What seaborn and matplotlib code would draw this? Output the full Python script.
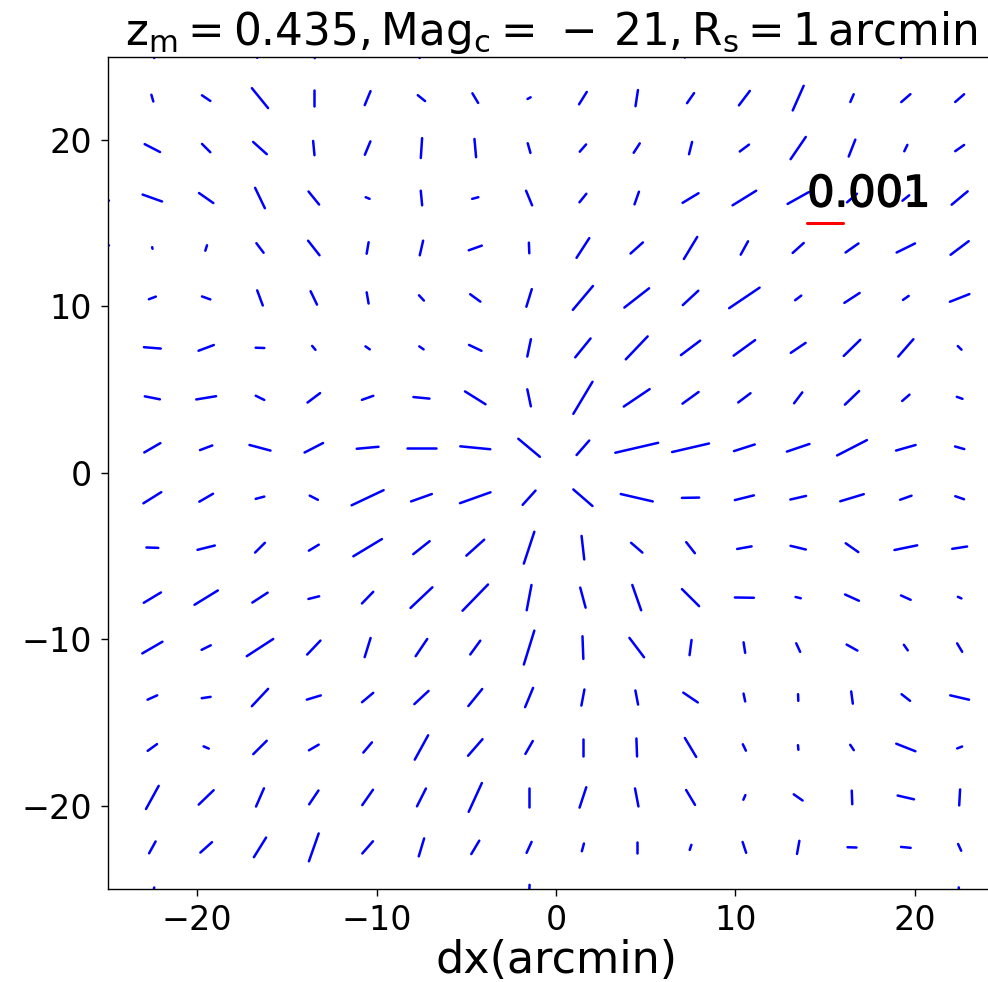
import numpy as np
import pandas as pd
import matplotlib
matplotlib.use("Agg")
import matplotlib.pyplot as plt
import matplotlib.patheffects as pe
import seaborn as sns

nan = np.nan

# Whisker grid centres (arcmin), spacing 3 arcmin
grid_x = np.arange(-25.5, 25.6, 3.0)
grid_y = np.arange(25.5, -25.6, -3.0)

# Shear amplitude (units of 1e-4); rows run top -> bottom, columns left -> right
gamma = [
    [nan, 6.0, nan, 6.0, 6.0, nan, 6.0, nan, nan, nan, nan, 6.5, nan, nan, nan, 6.5, nan, nan],
    [nan, 2.1, 2.9, 7.5, 4.6, 4.5, 2.7, 3.3, 1.0, 4.3, 4.9, 3.6, 5.3, 8.0, 2.5, 3.5, 3.4, nan],
    [nan, 4.9, 3.4, 5.3, 4.3, 4.3, 6.0, 5.5, 3.0, 2.8, 3.3, 3.8, 3.3, 7.9, 5.4, 2.1, 3.1, nan],
    [6.0, 5.8, 5.0, 6.7, 4.9, 1.2, 4.4, 1.8, 4.7, 3.2, 4.0, 5.3, 7.9, 6.9, 3.8, 2.5, 6.0, nan],
    [6.0, 0.5, 1.7, 3.5, 5.4, 3.5, 4.5, 3.9, 3.2, 6.9, 4.8, 7.6, 4.5, 4.3, 4.5, 5.8, 6.5, nan],
    [nan, 2.1, 2.5, 4.8, 4.4, 3.4, 2.1, 3.6, 5.5, 9.1, 9.0, 6.1, 10.5, 2.2, 5.2, 2.0, 5.9, nan],
    [nan, 4.7, 4.6, 2.4, 1.5, 1.5, 1.5, 3.9, 5.3, 7.1, 9.2, 6.9, 7.6, 5.1, 6.7, 6.7, 1.5, nan],
    [nan, 4.3, 5.6, 2.7, 4.5, 3.4, 4.5, 6.9, 5.2, 11.0, 8.9, 5.7, 4.4, 4.0, 5.7, 2.8, 1.7, nan],
    [nan, 5.3, 3.7, 6.1, 5.9, 6.1, 7.9, 8.4, 8.1, 5.6, 12.3, 10.6, 6.1, 6.7, 9.5, 5.7, 2.7, nan],
    [nan, 6.0, 4.5, 2.5, 2.6, 10.0, 6.2, 9.1, 5.6, 7.3, 9.2, 4.8, 5.5, 4.5, 6.9, 3.4, 2.6, nan],
    [nan, 3.3, 5.0, 4.0, 3.3, 9.5, 6.0, 6.9, 10.0, 7.1, 4.3, 4.1, 4.1, 4.4, 4.4, 6.5, 4.2, nan],
    [nan, 5.7, 7.8, 5.2, 3.1, 4.7, 8.7, 10.6, 7.7, 6.2, 8.0, 7.0, 5.3, 1.5, 4.3, 3.0, 1.1, nan],
    [nan, 6.6, 2.9, 9.0, 5.6, 6.0, 6.1, 5.0, 10.6, 6.8, 7.1, 4.6, 3.2, 2.8, 3.5, 2.0, 2.9, nan],
    [nan, 3.0, 2.5, 6.9, 4.1, 4.2, 5.6, 6.4, 6.2, 4.9, 4.3, 5.0, 2.4, 2.0, 3.7, 3.1, 5.4, nan],
    [nan, 3.3, 1.6, 5.5, 3.2, 3.9, 8.2, 6.4, 4.4, 5.0, 5.4, 6.5, 2.1, 1.4, 1.9, 5.8, 1.5, nan],
    [nan, 7.8, 6.0, 5.9, 4.9, 5.5, 5.9, 9.4, 5.9, 6.4, 5.5, 5.1, 1.5, 3.1, 4.1, 4.7, 4.8, nan],
    [nan, 4.0, 4.5, 6.8, 8.8, 4.7, 5.6, 4.6, 3.6, 2.4, 3.3, 1.6, 3.4, 4.0, 2.5, 2.7, 2.2, nan],
    [nan, 6.0, nan, nan, nan, nan, nan, nan, 7.5, nan, nan, nan, nan, nan, nan, nan, 6.0, nan],
]

# Shear position angle (degrees, counter-clockwise from +x)
angle = [
    [nan, 100, nan, 75, 95, nan, 80, nan, nan, nan, nan, 60, nan, nan, nan, 65, nan, nan],
    [nan, 105, 144, 127, 90, 69, 139, 119, 30, 60, 82, 57, 55, 67.6, 68, 43, 43, nan],
    [nan, 151, 133, 136, 95, 69, 86.5, 94.7, 104.5, 51, 59, 77, 39, 57.6, 70, 66, 37, nan],
    [165, 159, 143, 114, 127, 156, 95, 16, 111, 53, 72, 33, 33.7, 31, 43, 41, 42, nan],
    [15, 100, 74, 125, 126, 81, 78, 21, 92, 59, 44, 60.7, 63, 44, 37, 28, 39, nan],
    [nan, 22, 159, 109, 114, 99, 131, 142, 74, 52, 40, 45, 36, 39, 35, 37, 23, nan],
    [nan, 175, 22, 178, 128, 143, 143, 153, 79, 53, 48.5, 39, 38, 36, 46.5, 51, 133, nan],
    [nan, 168, 10, 152, 39, 21, 174, 146, 101, 61, 36, 38, 39, 55, 46, 43, 159, nan],
    [nan, 32, 22, 164, 29, 5.6, 0, 174, 138, 51, 14, 14, 19, 20, 29, 17, 163, nan],
    [nan, 34, 32, 16, 151, 27, 21, 21, 50, 137, 166, 1, 15, 14, 18, 21, 159.5, nan],
    [nan, 178, 15, 47, 33, 33, 40.6, 44, 73, 96, 137, 126, 11, 165.5, 143, 12.5, 9.6, nan],
    [nan, 33, 33.5, 35, 15, 48, 45.5, 48, 80, 104, 108, 133, 179, 165, 154, 154, 154, nan],
    [nan, 32, 28, 35, 48.6, 74, 58, 56, 74, 92, 125, 83, 98, 113, 149, 123, 119, nan],
    [nan, 26, 9, 49, 18, 42, 45, 53, 69, 80, 100, 144, 101, 92, 97, 140, 166, nan],
    [nan, 38, 155, 47, 32, 52, 63, 51, 62, 90, 92, 119, 114, 95, 122, 157, 23, nan],
    [nan, 63, 46, 68, 58, 57, 65, 67, 90, 73, 100, 119, 68, 143, 92, 166, 87, nan],
    [nan, 63, 44, 60, 72, 51, 74.5, 61, 67, 76, 90, 73, 107, 80.5, 178, 174, 113, nan],
    [nan, 80, nan, nan, nan, nan, nan, nan, 88, nan, nan, nan, nan, nan, nan, nan, 95, nan],
]

# Whisker length: a shear of 0.001 spans 2 arcmin
reference_shear = 0.001
reference_length = 2.0
arcmin_per_shear = reference_length / reference_shear
bar_start = (14.0, 15.0)

records = []
wid = 0
for j, yc in enumerate(grid_y):
    for i, xc in enumerate(grid_x):
        g = gamma[j][i]
        a = angle[j][i]
        if np.isnan(g) or np.isnan(a):
            continue
        half = 0.5 * g * 1e-4 * arcmin_per_shear
        phi = np.deg2rad(a)
        dx, dy = half * np.cos(phi), half * np.sin(phi)
        records.append({"x": xc - dx, "y": yc - dy, "wid": wid})
        records.append({"x": xc + dx, "y": yc + dy, "wid": wid})
        wid += 1
whiskers = pd.DataFrame(records)

sns.set_theme(style="ticks", rc={
    "axes.linewidth": 1.0,
    "xtick.major.size": 5,
    "ytick.major.size": 5,
    "xtick.major.width": 1.0,
    "ytick.major.width": 1.0,
    "axes.edgecolor": "black",
    "xtick.color": "black",
    "ytick.color": "black",
    "text.color": "black",
    "axes.labelcolor": "black",
})
plt.rcParams["font.family"] = ["DejaVu Sans"]
plt.rcParams["mathtext.fontset"] = "dejavusans"

fig = plt.figure(figsize=(9.88, 9.82), dpi=100)
ax = fig.add_axes([107.5 / 988, 93.0 / 982, 897.0 / 988, 832.5 / 982])

sns.lineplot(data=whiskers, x="x", y="y", units="wid", estimator=None,
             sort=False, color="blue", linewidth=1.8, legend=False, ax=ax)

# scale bar
bar = pd.DataFrame({"x": [bar_start[0], bar_start[0] + reference_length],
                    "y": [bar_start[1], bar_start[1]]})
sns.lineplot(data=bar, x="x", y="y", color="red", linewidth=2.2, ax=ax)
ax.text(bar_start[0], bar_start[1] + 1.0, f"{reference_shear:g}", fontsize=31,
        ha="left", va="baseline", color="black",
        path_effects=[pe.withStroke(linewidth=1.0, foreground="black")])

ax.set_xlim(-25, 25)
ax.set_ylim(-25, 25)
ax.set_xticks([-20, -10, 0, 10, 20])
ax.set_yticks([-20, -10, 0, 10, 20])
ax.tick_params(labelsize=24, pad=6)
ax.set_xlabel("dx(arcmin)", fontsize=32, labelpad=1)
ax.set_ylabel("")
ax.set_title(r"$\mathrm{z_m = 0.435, Mag_c = \,-\,21, R_s = 1\,arcmin}$",
             fontsize=31.5, pad=6, x=0.495)

fig.savefig("out.png", dpi=100)
